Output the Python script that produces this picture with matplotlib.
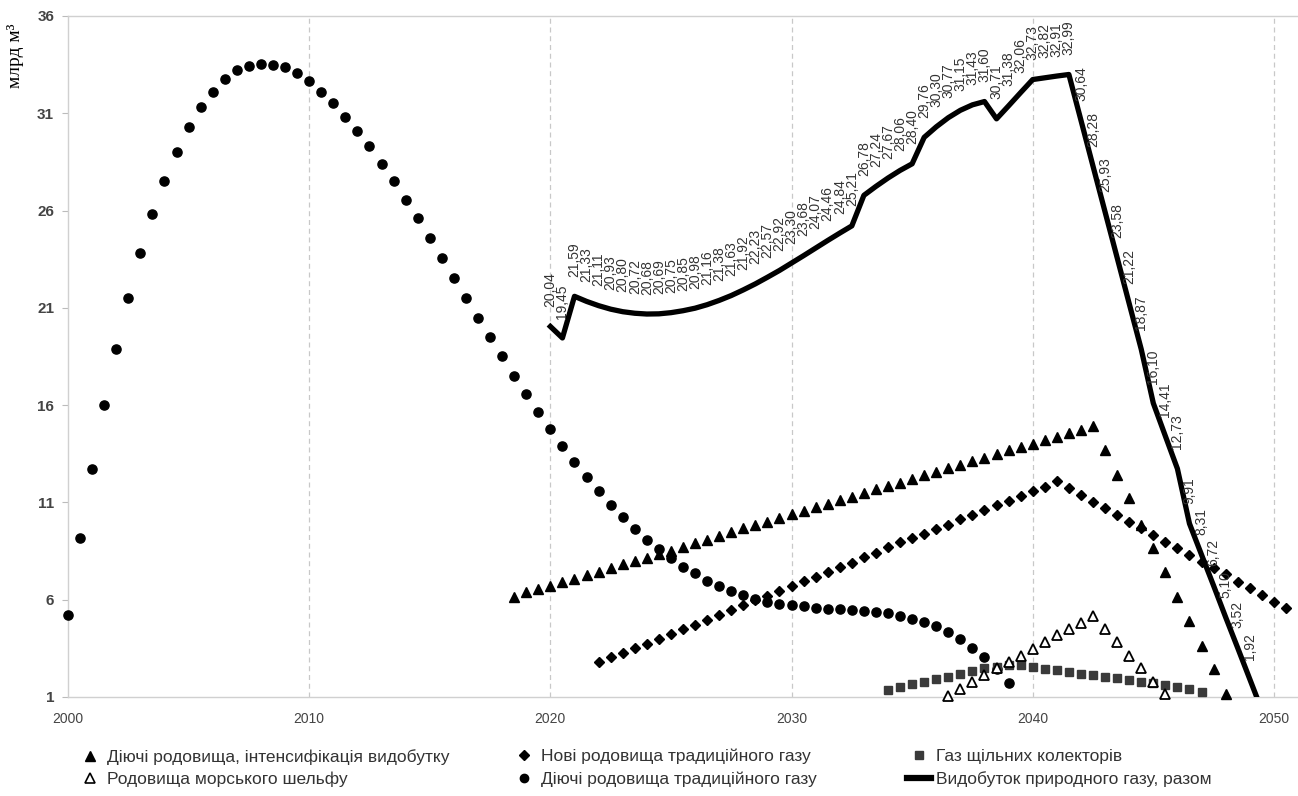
import numpy as np
import matplotlib
matplotlib.use("Agg")
import matplotlib.pyplot as plt
from matplotlib.lines import Line2D

plt.rcParams['font.family'] = ['Liberation Sans', 'DejaVu Sans']

# Діючі родовища традиційного газу (circles), 2000..2039, step 0.5
circ_years = np.arange(2000, 2039.01, 0.5)
circ_vals = [5.2, 9.15, 12.7, 16.0, 18.9, 21.5, 23.8, 25.8, 27.5, 29.0,
             30.3, 31.3, 32.1, 32.75, 33.2, 33.45, 33.55, 33.5, 33.35, 33.05,
             32.65, 32.1, 31.5, 30.8, 30.1, 29.3, 28.4, 27.5, 26.55, 25.6,
             24.6, 23.55, 22.55, 21.5, 20.5, 19.5, 18.5, 17.5, 16.55, 15.65,
             14.75, 13.88, 13.06, 12.3, 11.6, 10.89, 10.25, 9.63, 9.09, 8.61,
             8.16, 7.7, 7.36, 6.98, 6.72, 6.47, 6.26, 6.06, 5.9, 5.8,
             5.72, 5.66, 5.58, 5.54, 5.5, 5.45, 5.41, 5.36, 5.3, 5.17,
             5.03, 4.87, 4.65, 4.36, 4.0, 3.54, 3.06, 2.45, 1.7]

# Діючі родовища, інтенсифікація видобутку (filled triangles), 2018.5..2048
tri_years = np.arange(2018.5, 2048.01, 0.5)
tri_vals = [6.16, 6.37, 6.54, 6.71, 6.9, 7.08, 7.27, 7.44, 7.62, 7.82,
            8.0, 8.16, 8.37, 8.51, 8.73, 8.9, 9.07, 9.29, 9.5, 9.67,
            9.84, 10.01, 10.22, 10.41, 10.57, 10.75, 10.92, 11.13, 11.3, 11.47,
            11.68, 11.85, 12.02, 12.22, 12.4, 12.57, 12.77, 12.94, 13.13, 13.29,
            13.48, 13.68, 13.84, 14.01, 14.2, 14.35, 14.56, 14.73, 14.95, 13.7,
            12.41, 11.2, 9.84, 8.64, 7.41, 6.13, 4.93, 3.64, 2.43, 1.16]

# Нові родовища традиційного газу (diamonds), 2022..2050.5
dia_years = np.arange(2022, 2050.51, 0.5)
dia_vals = [2.79, 3.03, 3.27, 3.52, 3.73, 3.98, 4.24, 4.5, 4.7, 4.96,
            5.2, 5.48, 5.72, 5.99, 6.19, 6.45, 6.71, 6.95, 7.19, 7.44,
            7.67, 7.91, 8.18, 8.42, 8.7, 8.94, 9.16, 9.38, 9.64, 9.84,
            10.14, 10.36, 10.61, 10.86, 11.09, 11.35, 11.57, 11.81, 12.1, 11.75,
            11.37, 11.04, 10.7, 10.36, 10.0, 9.7, 9.33, 8.99, 8.65, 8.3,
            7.96, 7.62, 7.33, 6.93, 6.59, 6.25, 5.9, 5.56]

# Родовища морського шельфу (open triangles), 2036.5..2045.5
shelf_years = np.arange(2036.5, 2045.51, 0.5)
shelf_vals = [1.06, 1.43, 1.79, 2.12, 2.47, 2.82, 3.13, 3.48, 3.82, 4.17,
              4.48, 4.82, 5.15, 4.48, 3.83, 3.1, 2.51, 1.79, 1.16]

# Газ щільних колекторів (squares), 2034..2047
sq_years = np.arange(2034, 2047.01, 0.5)
sq_vals = [1.35, 1.52, 1.65, 1.78, 1.9, 2.04, 2.18, 2.32, 2.47, 2.56,
           2.66, 2.63, 2.56, 2.46, 2.38, 2.28, 2.19, 2.12, 2.04, 1.97,
           1.86, 1.77, 1.7, 1.62, 1.5, 1.4, 1.28]

# Видобуток природного газу, разом (line), 2020..2049.5
tot_years = np.arange(2020, 2049.51, 0.5)
tot_vals = [20.04, 19.45, 21.59, 21.33, 21.11, 20.93, 20.80, 20.72, 20.68, 20.69,
            20.75, 20.85, 20.98, 21.16, 21.38, 21.63, 21.92, 22.23, 22.57, 22.92,
            23.30, 23.68, 24.07, 24.46, 24.84, 25.21, 26.78, 27.24, 27.67, 28.06,
            28.40, 29.76, 30.30, 30.77, 31.15, 31.43, 31.60, 30.71, 31.38, 32.06,
            32.73, 32.82, 32.91, 32.99, 30.64, 28.28, 25.93, 23.58, 21.22, 18.87,
            16.10, 14.41, 12.73, 9.91, 8.31, 6.72, 5.10, 3.52, 1.92, 0.32]

legend_labels = ["Діючі родовища, інтенсифікація видобутку",
                 "Родовища морського шельфу",
                 "Нові родовища традиційного газу",
                 "Діючі родовища традиційного газу",
                 "Газ щільних колекторів",
                 "Видобуток природного газу, разом"]

fig = plt.figure(figsize=(12.98, 7.96), dpi=100)
ax = fig.add_axes([0.0524, 0.1244, 0.9476, 0.8556])

ax.plot(tri_years, tri_vals, ls='none', marker='^', ms=7, color='black', clip_on=False, zorder=3)
ax.plot(dia_years, dia_vals, ls='none', marker='D', ms=5, color='black', clip_on=False, zorder=3)
ax.plot(circ_years, circ_vals, ls='none', marker='o', ms=6.6, color='black', clip_on=False, zorder=3)
ax.plot(sq_years, sq_vals, ls='none', marker='s', ms=5.3, color='#3a3a3a', zorder=3)
ax.plot(shelf_years, shelf_vals, ls='none', marker='^', ms=7, mfc='white', mec='black',
        mew=1.3, clip_on=False, zorder=4)
ax.plot(tot_years, tot_vals, color='black', lw=3.8, solid_joinstyle='round', zorder=5)

for xv, yv in zip(tot_years, tot_vals):
    if yv < 1:
        continue
    ax.annotate(f"{yv:.2f}".replace('.', ','), (xv, yv), xytext=(0, 14),
                textcoords='offset points', rotation=90, ha='center', va='bottom',
                fontsize=10, color='#333333', zorder=6)

ax.set_xlim(2000, 2051)
ax.set_ylim(1, 36)
ax.set_xticks([2000, 2010, 2020, 2030, 2040, 2050])
ax.set_yticks([1, 6, 11, 16, 21, 26, 31, 36])
ax.tick_params(axis='x', length=0, pad=11, labelsize=10, labelcolor='#444444')
ax.tick_params(axis='y', length=4, color='#bbbbbb', pad=6, labelsize=11, labelcolor='#444444')
for lab in ax.get_yticklabels():
    lab.set_fontweight('bold')

for gx in [2010, 2020, 2030, 2040, 2050]:
    ax.axvline(gx, color='#c8c8c8', lw=0.9, ls=(0, (4, 3)), zorder=1)

for side in ['left', 'bottom', 'top']:
    ax.spines[side].set_color('#d0d0d0')
    ax.spines[side].set_linewidth(1.0)
ax.spines['right'].set_visible(False)

fig.text(0.012, 0.93, "млрд м³", rotation=90, ha='center', va='center',
         fontsize=14, family=['Liberation Serif', 'DejaVu Serif'])

handles = [Line2D([], [], ls='none', marker='^', ms=6.5, color='black'),
           Line2D([], [], ls='none', marker='^', ms=6.5, mfc='white', mec='black', mew=1.2),
           Line2D([], [], ls='none', marker='D', ms=5, color='black'),
           Line2D([], [], ls='none', marker='o', ms=6, color='black'),
           Line2D([], [], ls='none', marker='s', ms=5.5, color='#3a3a3a'),
           Line2D([], [], color='black', lw=4.5)]

# one legend per column so each column sits where the reference has it
col_x = [0.048, 0.382, 0.6865]
for i, cx in enumerate(col_x):
    fig.legend(handles[2 * i:2 * i + 2], legend_labels[2 * i:2 * i + 2], loc='upper left',
               bbox_to_anchor=(cx, 0.079), frameon=False, fontsize=12.5, handlelength=1.4,
               handletextpad=0.3, labelspacing=0.4, labelcolor='#333333')

fig.savefig("out.png", dpi=100)
